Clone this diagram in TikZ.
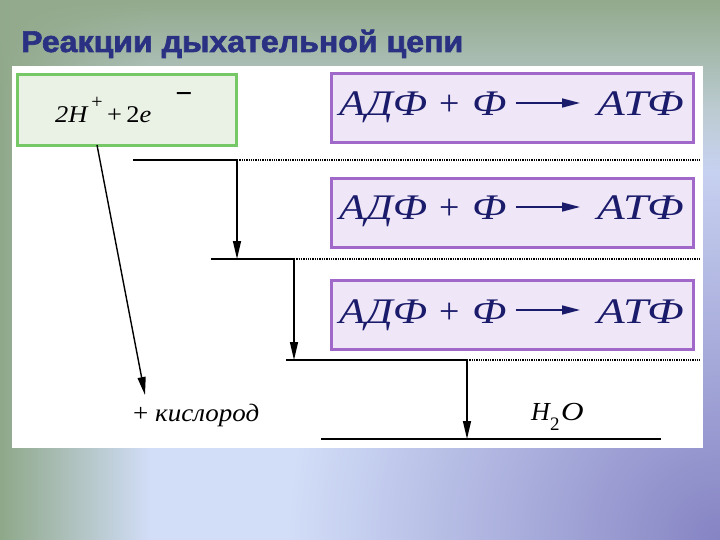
\documentclass[tikz,border=0pt]{standalone}
\usepackage{fontspec}
\setmainfont{Liberation Serif}
\newfontfamily\titlefont[FakeBold=2]{Liberation Sans Bold}
\usetikzlibrary{arrows.meta,fadings}
\definecolor{navy}{HTML}{1B1B6B}
\definecolor{titleblue}{HTML}{2A3182}
\definecolor{gborder}{HTML}{76C866}
\definecolor{gfill}{HTML}{EAF1E5}
\definecolor{pborder}{HTML}{A068C8}
\definecolor{pfill}{HTML}{EFE7F7}
\definecolor{topgreen}{HTML}{93AA8C}
\definecolor{leftgreen}{HTML}{8FA889}
\definecolor{lightblue}{HTML}{D2DEF8}
\definecolor{cornerpurple}{HTML}{8684C4}
\tikzfading[name=radfade, inner color=transparent!0, outer color=transparent!100]
\tikzset{
  panel/.style={fill=white},
  gbox/.style={draw=gborder, line width=3pt, fill=gfill, inner sep=0pt},
  pbox/.style={draw=pborder, line width=3pt, fill=pfill, inner sep=0pt},
  formula/.style={font=\fontsize{36}{40}\selectfont, text=navy, inner sep=0pt, anchor=base west},
  small/.style={font=\fontsize{24}{28}\selectfont, inner sep=0pt},
  level/.style={line width=2pt},
  dots/.style={line width=1.3pt, dash pattern=on 1.3pt off 1pt},
  drop/.style={line width=1.4pt, -{Triangle[length=18pt,width=8pt]}},
  react/.style={navy, line width=1.6pt, -{Triangle[length=18pt,width=9pt]}},
}
\begin{document}
\begin{tikzpicture}[x=1pt,y=-1pt]
\useasboundingbox (0,0) rectangle (720,540);
% background
\fill[lightblue] (0,0) rectangle (720,540);
\fill[cornerpurple, path fading=radfade] (720,540) circle (430);
\fill[leftgreen, path fading=east] (0,0) rectangle (150,540);
\fill[topgreen, path fading=south] (0,0) rectangle (720,170);
% title
\node[anchor=base west, font=\titlefont\fontsize{30}{34}\selectfont, text=titleblue, inner sep=0pt] (title) at (21,52) {\scalebox{1.07}[1]{Реакции дыхательной цепи}};
% panel
\fill[panel] (12,66) rectangle (703,448);
% green box
\node[gbox, minimum width=219pt, minimum height=71pt, anchor=north west] (g) at (16,73) {};
\node[small, anchor=base west] (h) at (55,123) {\scalebox{1.1}[1]{\textit{2H}}};
\node[font=\fontsize{20}{20}\selectfont, inner sep=0pt] (hp) at (97,103) {+};
\node[small, anchor=base west] (e) at (107,123) {\scalebox{1.1}[1]{+\,2\textit{e}}};
\node[font=\fontsize{30}{30}\selectfont\bfseries, inner sep=0pt] (minus) at (184,98) {−};
% purple boxes
\foreach \i/\t/\b in {1/72/116, 2/177/220, 3/279/323}{
  \node[pbox, minimum width=362pt, minimum height=69pt, anchor=north west] (p\i) at (330,\t) {};
  \node[formula] (l\i) at (339,\b) {\scalebox{1.18}[1]{\itshape АДФ}};
  \node[formula] (pl\i) at (439,\b) {+};
  \node[formula] (f\i) at (472,\b) {\scalebox{1.18}[1]{\itshape Ф}};
  \node[formula] (r\i) at (597,\b) {\scalebox{1.26}[1]{\itshape АТФ}};
  \draw[react] ([xshift=9pt,yshift=13pt]f\i.base east) -- ([xshift=-17pt,yshift=13pt]r\i.base west);
}
% levels
\coordinate (a0) at (133,160); \coordinate (a1) at (237,160); \coordinate (a2) at (700,160);
\coordinate (b0) at (211,259); \coordinate (bm) at (237,259); \coordinate (b1) at (294,259); \coordinate (b2) at (700,259);
\coordinate (c0) at (286,360); \coordinate (cm) at (294,360); \coordinate (c1) at (467,360); \coordinate (c2) at (700,360);
\coordinate (d0) at (321,439); \coordinate (dm) at (467,439); \coordinate (d1) at (661,439);
\draw[level] (a0) -- (a1); \draw[dots] (a1) -- (a2);
\draw[level] (b0) -- (b1); \draw[dots] (b1) -- (b2);
\draw[level] (c0) -- (c1); \draw[dots] (c1) -- (c2);
\draw[level] (d0) -- (d1);
\draw[drop] (a1) -- (bm);
\draw[drop] (b1) -- (cm);
\draw[drop] (c1) -- (dm);
% diagonal
\coordinate (s) at (97,145); \coordinate (t) at (145,395);
\draw[drop] (s) -- (t);
% bottom texts
\node[font=\fontsize{25}{28}\selectfont, anchor=base west, inner sep=0pt] (ox) at (133,421) {\scalebox{1.08}[1]{+ \textit{кислород}}};
\node[font=\fontsize{26}{28}\selectfont\itshape, anchor=base west, inner sep=0pt] (wh) at (531,420) {H};
\node[font=\fontsize{19}{21}\selectfont, anchor=base west, inner sep=0pt] (w2) at (550,430) {2};
\node[font=\fontsize{26}{28}\selectfont\itshape, anchor=base west, inner sep=0pt] (wo) at (561,420) {\scalebox{1.2}[1]{O}};
\end{tikzpicture}
\end{document}
